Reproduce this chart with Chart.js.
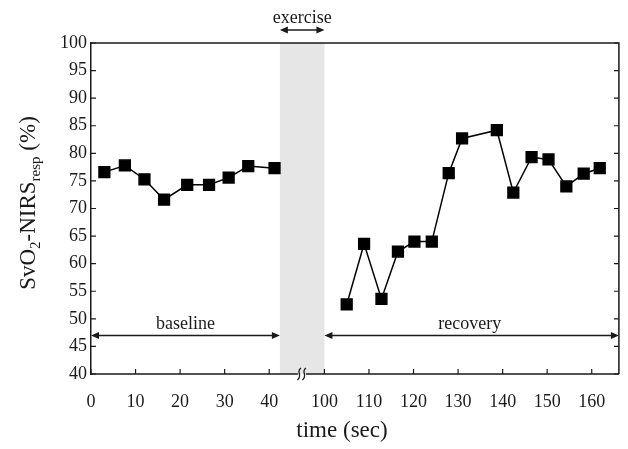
<!DOCTYPE html>
<html>
<head>
<meta charset="utf-8">
<script src="https://cdn.jsdelivr.net/npm/chart.js@4.4.1/dist/chart.umd.min.js"></script>
<style>
  html, body { margin: 0; padding: 0; background: #fff; }
  #wrap { width: 628px; height: 449px; }
</style>
</head>
<body>
<div id="wrap"><canvas id="chart" width="628" height="449"></canvas></div>
<script>
// Data (time in sec, SvO2-NIRSresp in %)
const baselineTime = [3, 7.6, 12, 16.4, 21.6, 26.5, 30.9, 35.3, 41.2];
const baselineSvo2 = [76.6, 77.8, 75.3, 71.6, 74.3, 74.3, 75.6, 77.7, 77.3];
const recoveryTime = [105, 108.9, 112.8, 116.5, 120.2, 124.1, 127.9, 130.9, 138.7, 142.4, 146.5, 150.3, 154.3, 158.2, 161.8];
const recoverySvo2 = [52.6, 63.6, 53.6, 62.2, 64.0, 64.0, 76.4, 82.7, 84.2, 72.9, 79.3, 78.9, 74.0, 76.3, 77.3];

const xTickTimes = [0, 10, 20, 30, 40, 100, 110, 120, 130, 140, 150, 160];
const xTickLabels = ['0', '10', '20', '30', '40', '100', '110', '120', '130', '140', '150', '160'];
const yTicks = [40, 45, 50, 55, 60, 65, 70, 75, 80, 85, 90, 95, 100];

// exercise period (axis is broken between these times)
const exerciseStart = 42.4;
const exerciseEnd = 100;
const breakOffset = 47.6;   // time removed from the axis by the break
const axisMax = 118.5;

function toAxis(t) {
    return t < exerciseEnd ? t : t - breakOffset;
}

const serif = "'Liberation Serif', 'Times New Roman', serif";
const ink = '#1a1a1a';

function arrow(ctx, x1, x2, y) {
    ctx.beginPath();
    ctx.moveTo(x1 + 3, y);
    ctx.lineTo(x2 - 3, y);
    ctx.stroke();
    ctx.beginPath();
    ctx.moveTo(x1, y); ctx.lineTo(x1 + 8, y - 3.5); ctx.lineTo(x1 + 8, y + 3.5); ctx.closePath();
    ctx.moveTo(x2, y); ctx.lineTo(x2 - 8, y - 3.5); ctx.lineTo(x2 - 8, y + 3.5); ctx.closePath();
    ctx.fill();
}

const decorPlugin = {
    id: 'decor',
    beforeDatasetsDraw(chart) {
        const { ctx, chartArea, scales: { x } } = chart;
        const x1 = x.getPixelForValue(toAxis(exerciseStart));
        const x2 = x.getPixelForValue(toAxis(exerciseEnd));
        ctx.save();
        ctx.fillStyle = '#e6e6e6';
        ctx.fillRect(x1, chartArea.top, x2 - x1, chartArea.bottom - chartArea.top);
        ctx.restore();
    },
    afterDraw(chart) {
        const { ctx, chartArea: a, scales: { x, y } } = chart;
        ctx.save();
        ctx.strokeStyle = ink;
        ctx.fillStyle = ink;
        ctx.lineWidth = 1.5;

        // frame: top, right, broken bottom
        const bx = x.getPixelForValue(toAxis(exerciseStart)) + 18;
        ctx.beginPath();
        ctx.moveTo(a.left, a.top); ctx.lineTo(a.right, a.top); ctx.lineTo(a.right, a.bottom);
        ctx.moveTo(a.left, a.bottom); ctx.lineTo(bx, a.bottom);
        ctx.moveTo(bx + 8, a.bottom); ctx.lineTo(a.right, a.bottom);
        ctx.stroke();

        // break mark
        ctx.lineWidth = 1.3;
        [bx + 1, bx + 6].forEach(cx => {
            ctx.beginPath();
            ctx.moveTo(cx + 2, a.bottom - 6);
            ctx.bezierCurveTo(cx - 3.5, a.bottom - 2, cx + 4.5, a.bottom + 1, cx - 1.5, a.bottom + 6);
            ctx.stroke();
        });

        // inward tick marks
        ctx.lineWidth = 1.2;
        ctx.beginPath();
        yTicks.forEach(v => {
            const py = y.getPixelForValue(v);
            ctx.moveTo(a.left, py); ctx.lineTo(a.left + 5, py);
            ctx.moveTo(a.right, py); ctx.lineTo(a.right - 5, py);
        });
        xTickTimes.forEach(t => {
            const px = x.getPixelForValue(toAxis(t));
            ctx.moveTo(px, a.bottom); ctx.lineTo(px, a.bottom - 5);
        });
        ctx.stroke();

        // phase arrows and labels
        ctx.lineWidth = 1.5;
        const ex1 = x.getPixelForValue(toAxis(exerciseStart));
        const ex2 = x.getPixelForValue(toAxis(exerciseEnd));
        const ay = y.getPixelForValue(47);
        arrow(ctx, a.left, ex1, ay);
        arrow(ctx, ex2, a.right, ay);
        arrow(ctx, ex1, ex2, a.top - 13);

        ctx.font = '18px ' + serif;
        ctx.textAlign = 'center';
        ctx.textBaseline = 'alphabetic';
        ctx.fillText('baseline', (a.left + ex1) / 2, ay - 6);
        ctx.fillText('recovery', (ex2 + a.right) / 2 - 2, ay - 6);
        ctx.fillText('exercise', (ex1 + ex2) / 2, a.top - 20);

        // x title
        ctx.font = '23px ' + serif;
        ctx.fillText('time (sec)', 342, 437);

        // y title with subscripts
        const parts = [
            { t: 'SvO', sub: false }, { t: '2', sub: true }, { t: '-NIRS', sub: false },
            { t: 'resp', sub: true }, { t: ' (%)', sub: false }
        ];
        const big = '23px ' + serif, small = '15px ' + serif;
        let total = 0;
        parts.forEach(p => { ctx.font = p.sub ? small : big; p.w = ctx.measureText(p.t).width; total += p.w; });
        ctx.translate(35, 203);
        ctx.rotate(-Math.PI / 2);
        ctx.textAlign = 'left';
        let cx = -total / 2;
        parts.forEach(p => {
            ctx.font = p.sub ? small : big;
            ctx.fillText(p.t, cx, p.sub ? 5 : 0);
            cx += p.w;
        });
        ctx.restore();
    }
};

const lineStyle = {
    borderColor: '#000',
    backgroundColor: '#000',
    borderWidth: 1.5,
    pointStyle: 'rect',
    pointRadius: 7.6,
    pointHoverRadius: 7.6,
    tension: 0
};

new Chart(document.getElementById('chart'), {
    type: 'line',
    data: {
        datasets: [
            { ...lineStyle, label: 'baseline', data: baselineTime.map((t, i) => ({ x: toAxis(t), y: baselineSvo2[i] })) },
            { ...lineStyle, label: 'recovery', data: recoveryTime.map((t, i) => ({ x: toAxis(t), y: recoverySvo2[i] })) }
        ]
    },
    options: {
        responsive: false,
        animation: false,
        layout: { padding: { top: 43, right: 6, left: 0, bottom: 0 } },
        plugins: { legend: { display: false }, tooltip: { enabled: false } },
        scales: {
            x: {
                type: 'linear',
                min: 0,
                max: axisMax,
                afterBuildTicks: scale => { scale.ticks = xTickTimes.map(t => ({ value: toAxis(t) })); },
                afterFit: scale => {
                    scale.height = 75;
                    scale.paddingLeft = 0;
                    scale.paddingRight = 0;
                },
                grid: { display: false, drawTicks: false },
                border: { display: false },
                ticks: {
                    callback: (v, i) => xTickLabels[i],
                    font: { family: serif, size: 18 },
                    color: ink,
                    padding: 17,
                    maxRotation: 0,
                    autoSkip: false
                }
            },
            y: {
                min: 40,
                max: 100,
                afterFit: scale => {
                    scale.width = 91;
                    scale.paddingTop = 0;
                    scale.paddingBottom = 0;
                },
                grid: { display: false, drawTicks: false },
                border: { display: true, color: ink, width: 1.5 },
                ticks: {
                    stepSize: 5,
                    font: { family: serif, size: 18 },
                    color: ink,
                    padding: 4
                }
            }
        }
    },
    plugins: [decorPlugin]
});
</script>
</body>
</html>
